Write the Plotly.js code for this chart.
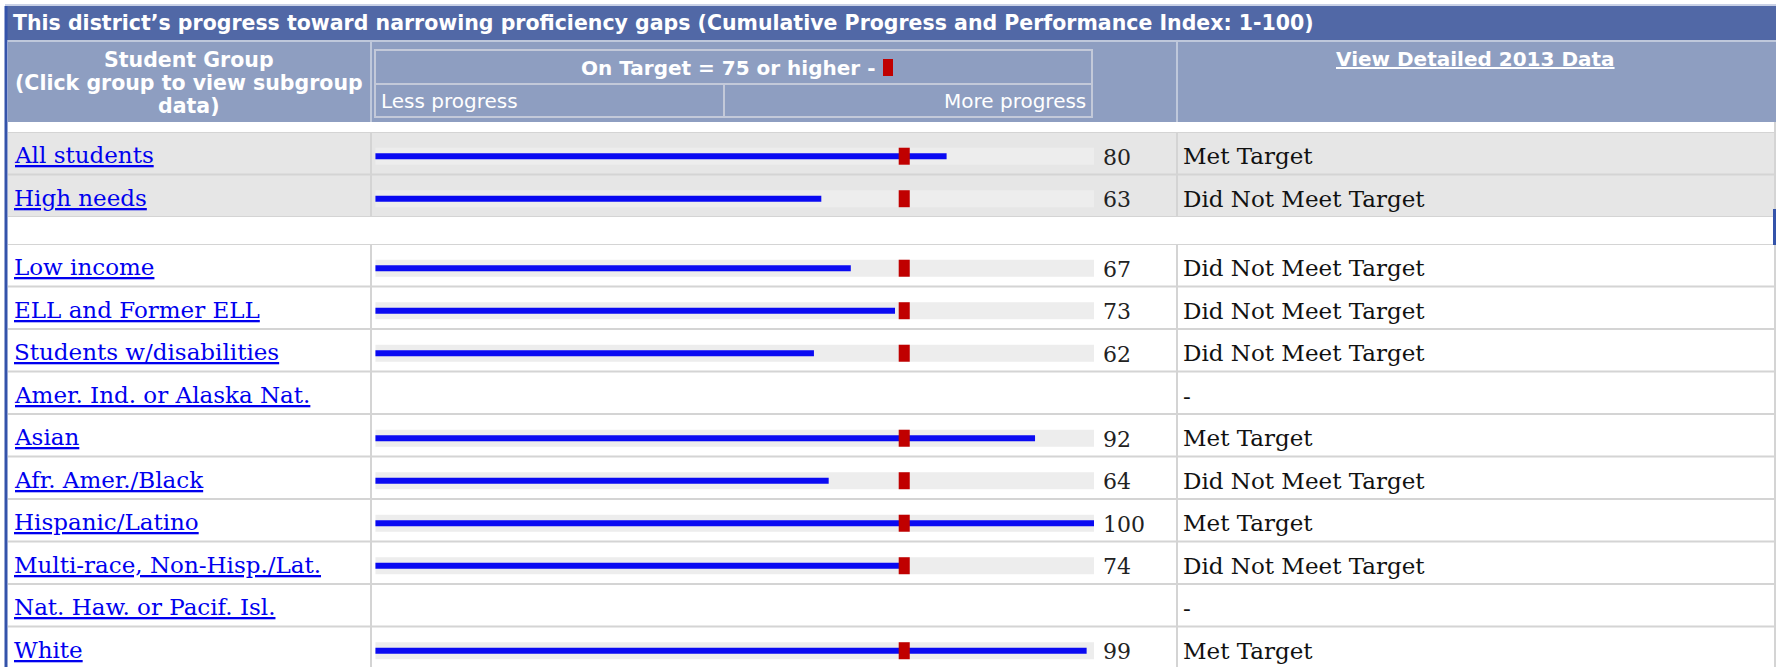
<!DOCTYPE html>
<html>
<head>
<meta charset="utf-8">
<script src="https://cdn.plot.ly/plotly-3.0.1.min.js"></script>
<style>html,body{margin:0;padding:0;background:#fff;}#chart{width:1785px;height:667px;}</style>
</head>
<body>
<div id="chart"></div>
<script>
// ---------- data ----------
const TITLE = "This district’s progress toward narrowing proficiency gaps (Cumulative Progress and Performance Index: 1-100)";
const TARGET = 75;
const topGroups = ["All students", "High needs"];
const topValues = [80, 63];
const topStatus = ["Met Target", "Did Not Meet Target"];
const subGroups = ["Low income", "ELL and Former ELL", "Students w/disabilities", "Amer. Ind. or Alaska Nat.",
  "Asian", "Afr. Amer./Black", "Hispanic/Latino", "Multi-race, Non-Hisp./Lat.", "Nat. Haw. or Pacif. Isl.", "White"];
const subValues = [67, 73, 62, null, 92, 64, 100, 74, null, 99];
const subStatus = ["Did Not Meet Target", "Did Not Meet Target", "Did Not Meet Target", "-", "Met Target",
  "Did Not Meet Target", "Met Target", "Did Not Meet Target", "-", "Met Target"];
const headerGroup = ["Student Group", "(Click group to view subgroup", "data)"];
const headerScale = ["Less progress", "More progress"];
const headerLink = "View Detailed 2013 Data";
const SCALE_MAX = 100;

// ---------- style / geometry ----------
const W = 1785, H = 667;
const X = p => p / W;
const Y = p => 1 - p / H;
const TRACK_START = 2.5;   // bar track begins slightly right of value 0
const MARK_W = 1.5;        // width of the target marker in value units
const SHIFT = 0.07;        // bars sit slightly below row centre
const ROW = 42.5;
const BLUE = '#0A0AF2', RED = '#C00000', TRACK = '#EDEDED', GRID = '#D4D4D4';
const SERIF = 'DejaVu Serif, serif';
const SANS = 'DejaVu Sans, Verdana, sans-serif';

function groupTraces(cats, vals, yax) {
  const common = {type: 'bar', orientation: 'h', y: cats, xaxis: 'x', yaxis: yax, hoverinfo: 'skip', showlegend: false};
  return [
    Object.assign({}, common, {
      x: vals.map(v => v == null ? null : SCALE_MAX - TRACK_START), base: TRACK_START,
      width: 0.4, offset: -0.2 + SHIFT, marker: {color: TRACK, line: {width: 0}}
    }),
    Object.assign({}, common, {
      x: vals.map(v => v == null ? null : v - TRACK_START), base: TRACK_START,
      width: 0.14, offset: -0.07 + SHIFT, marker: {color: BLUE, line: {width: 0}}
    }),
    Object.assign({}, common, {
      x: vals.map(v => v == null ? null : MARK_W), base: TARGET - MARK_W,
      width: 0.4, offset: -0.2 + SHIFT, marker: {color: RED, line: {width: 0}}
    })
  ];
}

const data = [].concat(groupTraces(topGroups, topValues, 'y'), groupTraces(subGroups, subValues, 'y2'));

const shapes = [];
function rectPx(x0, y0, x1, y1, fill, layer) {
  shapes.push({type: 'rect', xref: 'paper', yref: 'paper', x0: X(x0), x1: X(x1), y0: Y(y1), y1: Y(y0),
    fillcolor: fill, line: {width: 0}, layer: layer || 'below'});
}
function linePx(x0, y0, x1, y1, color, w, layer) {
  shapes.push({type: 'line', xref: 'paper', yref: 'paper', x0: X(x0), x1: X(x1), y0: Y(y0), y1: Y(y1),
    line: {color: color, width: w}, layer: layer || 'below'});
}

// title bar + header
rectPx(5, 4, 1776, 6, '#C9D1E6');
rectPx(5, 6, 1776, 40, '#5168A6');
rectPx(8, 40, 1776, 42, '#BFC8DB');
rectPx(8, 42, 1776, 122, '#8E9EC1');
linePx(371, 42, 371, 122, '#BFC8DB', 2);
linePx(1177, 42, 1177, 122, '#BFC8DB', 2);
// inner scale box
shapes.push({type: 'rect', xref: 'paper', yref: 'paper', x0: X(375), x1: X(1092), y0: Y(117), y1: Y(50),
  line: {color: '#C3C9D9', width: 2}, fillcolor: 'rgba(0,0,0,0)', layer: 'below'});
linePx(375, 84, 1092, 84, '#C3C9D9', 2);
linePx(724, 84, 724, 117, '#C3C9D9', 2);
// target marker swatch in header
rectPx(883, 59, 893, 76, RED, 'above');

// grey background of the top group rows
rectPx(8, 132, 1775, 217, '#E6E6E6');

// row grid lines (tied to the category axes)
topGroups.concat(['']).forEach((c, i) => {
  shapes.push({type: 'line', xref: 'paper', yref: 'y', x0: X(8), x1: X(1775), y0: i - 0.5, y1: i - 0.5,
    line: {color: GRID, width: 2}, layer: 'below'});
});
subGroups.forEach((c, i) => {
  shapes.push({type: 'line', xref: 'paper', yref: 'y2', x0: X(8), x1: X(1775), y0: i - 0.5, y1: i - 0.5,
    line: {color: GRID, width: 2}, layer: 'below'});
});
// column separators
[[132, 217], [244, 667]].forEach(([a, b]) => {
  linePx(371, a, 371, b, GRID, 2);
  linePx(1177, a, 1177, b, GRID, 2);
});
linePx(1775, 122, 1775, 667, GRID, 2);
// outer blue borders
rectPx(4.5, 6, 7.5, 667, '#3453AA', 'above');
rectPx(1773, 209, 1776, 245, '#3453AA', 'above');

// ---------- annotations ----------
const annotations = [];
function ann(o) { annotations.push(Object.assign({showarrow: false, xref: 'paper', yref: 'paper'}, o)); }

ann({x: X(11), y: Y(23), xanchor: 'left', yanchor: 'middle', text: '<b>' + TITLE + '</b>',
  font: {family: SANS, size: 20.5, color: '#FFFFFF'}});
const hy = [60, 83, 106];
headerGroup.forEach((t, i) => ann({x: X(189), y: Y(hy[i]), xanchor: 'center', yanchor: 'middle',
  text: '<b>' + t + '</b>', font: {family: SANS, size: 20.5, color: '#FFFFFF'}}));
ann({x: X(877), y: Y(68), xanchor: 'right', yanchor: 'middle', text: '<b>On Target = ' + TARGET + ' or higher -</b>',
  font: {family: SANS, size: 20, color: '#FFFFFF'}});
ann({x: X(379), y: Y(101), xanchor: 'left', yanchor: 'middle', text: headerScale[0],
  font: {family: SANS, size: 20, color: '#FFFFFF'}});
ann({x: X(1088), y: Y(101), xanchor: 'right', yanchor: 'middle', text: headerScale[1],
  font: {family: SANS, size: 20, color: '#FFFFFF'}});
ann({x: X(1475), y: Y(59), xanchor: 'center', yanchor: 'middle',
  text: '<b><span style="text-decoration:underline">' + headerLink + '</span></b>',
  font: {family: SANS, size: 20, color: '#FFFFFF'}});

function rowAnns(cats, vals, stats, yref) {
  cats.forEach((c, i) => {
    annotations.push({showarrow: false, xref: 'paper', yref: yref, x: X(12), y: i, xanchor: 'left', yanchor: 'middle',
      text: '<span style="text-decoration:underline">' + c + '</span>', yshift: -2,
      font: {family: SERIF, size: 23, color: '#0000EE'}});
    if (vals[i] != null) {
      annotations.push({showarrow: false, xref: 'paper', yref: yref, x: X(1101), y: i, xanchor: 'left', yanchor: 'middle',
        text: String(vals[i]), yshift: -4, font: {family: SERIF, size: 22, color: '#222222'}});
    }
    annotations.push({showarrow: false, xref: 'paper', yref: yref, x: X(1181), y: i, xanchor: 'left', yanchor: 'middle',
      text: stats[i], yshift: -3, font: {family: SERIF, size: 23, color: '#111111'}});
  });
}
rowAnns(topGroups, topValues, topStatus, 'y');
rowAnns(subGroups, subValues, subStatus, 'y2');

const layout = {
  width: W, height: H, margin: {l: 0, r: 0, t: 0, b: 0, pad: 0},
  paper_bgcolor: '#FFFFFF', plot_bgcolor: 'rgba(0,0,0,0)',
  barmode: 'overlay', showlegend: false, hovermode: false,
  xaxis: {domain: [X(357), X(1094)], range: [0, SCALE_MAX], visible: false, fixedrange: true, anchor: 'y2'},
  yaxis: {domain: [Y(217), Y(132)], type: 'category', categoryorder: 'array', categoryarray: topGroups,
    range: [topGroups.length - 0.5, -0.5], visible: false, fixedrange: true, anchor: 'x'},
  yaxis2: {domain: [0, Y(244)], type: 'category', categoryorder: 'array', categoryarray: subGroups,
    range: [-0.5 + (667 - 244) / ROW, -0.5], visible: false, fixedrange: true, anchor: 'x'},
  shapes: shapes, annotations: annotations
};

Plotly.newPlot('chart', data, layout, {displayModeBar: false, staticPlot: true});
</script>
</body>
</html>
